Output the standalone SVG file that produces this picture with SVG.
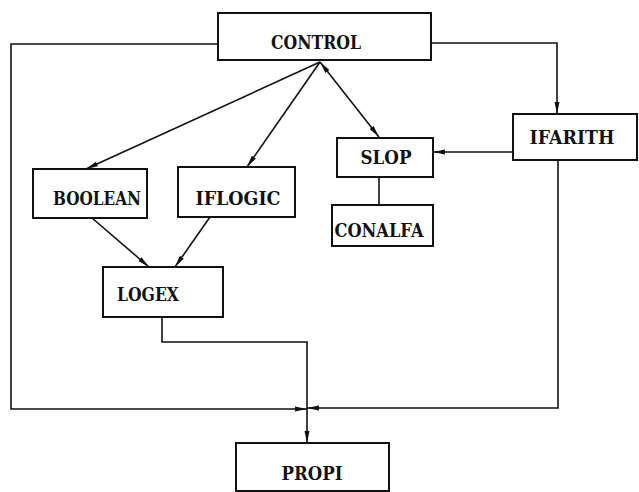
<svg xmlns="http://www.w3.org/2000/svg" width="639" height="492" viewBox="0 0 639 492">
<defs>
<style>
.box{fill:#fff;stroke:#111;stroke-width:2}
.lbl{font-family:"DejaVu Serif","Liberation Serif",serif;font-weight:bold;font-size:19px;fill:#111;text-anchor:middle;dominant-baseline:central}
.ln{fill:none;stroke:#111;stroke-width:1.6}
</style>
<marker id="ah" viewBox="0 0 12 6" refX="12" refY="3" markerWidth="12" markerHeight="6" markerUnits="userSpaceOnUse" orient="auto-start-reverse">
<path d="M0,0.5 L12,3 L0,5.5 Z" fill="#111"/>
</marker>
</defs>
<rect width="639" height="492" fill="#fff"/>
<g id="connectors">
<path class="ln" d="M218,44 H11 V409 H307" marker-end="url(#ah)"/>
<path class="ln" d="M431,43 H557 V114" marker-end="url(#ah)"/>
<path class="ln" d="M558,160 V408 H307" marker-end="url(#ah)"/>
<path class="ln" d="M513,152 H433" marker-end="url(#ah)"/>
<path class="ln" d="M320,62 L86,169" marker-end="url(#ah)"/>
<path class="ln" d="M320,62 L247,167" marker-end="url(#ah)"/>
<path class="ln" d="M320,62 L379,137" marker-start="url(#ah)" marker-end="url(#ah)"/>
<path class="ln" d="M379,177 V205"/>
<path class="ln" d="M92,218 L149,267" marker-end="url(#ah)"/>
<path class="ln" d="M210,217 L175,267" marker-end="url(#ah)"/>
<path class="ln" d="M162,317 V342 H307 V443" marker-end="url(#ah)"/>
</g>
<g id="CONTROL"><rect class="box" x="218" y="13" width="213" height="47"/><text class="lbl" x="316" y="42" textLength="90" lengthAdjust="spacingAndGlyphs">CONTROL</text></g>
<g id="IFARITH"><rect class="box" x="513" y="114" width="124" height="46"/><text class="lbl" x="572" y="137" textLength="85" lengthAdjust="spacingAndGlyphs">IFARITH</text></g>
<g id="SLOP"><rect class="box" x="337" y="138" width="96" height="39"/><text class="lbl" x="386" y="157" textLength="51" lengthAdjust="spacingAndGlyphs">SLOP</text></g>
<g id="CONALFA"><rect class="box" x="332" y="205" width="101" height="41"/><text class="lbl" x="379" y="230" textLength="89" lengthAdjust="spacingAndGlyphs">CONALFA</text></g>
<g id="BOOLEAN"><rect class="box" x="33" y="169" width="114" height="49"/><text class="lbl" x="97" y="198" textLength="88" lengthAdjust="spacingAndGlyphs">BOOLEAN</text></g>
<g id="IFLOGIC"><rect class="box" x="178" y="167" width="117" height="50"/><text class="lbl" x="238" y="198" textLength="85" lengthAdjust="spacingAndGlyphs">IFLOGIC</text></g>
<g id="LOGEX"><rect class="box" x="103" y="267" width="120" height="50"/><text class="lbl" x="148" y="294" textLength="62" lengthAdjust="spacingAndGlyphs">LOGEX</text></g>
<g id="PROPI"><rect class="box" x="236" y="443" width="153" height="48"/><text class="lbl" x="312" y="473" textLength="61" lengthAdjust="spacingAndGlyphs">PROPI</text></g>
</svg>
